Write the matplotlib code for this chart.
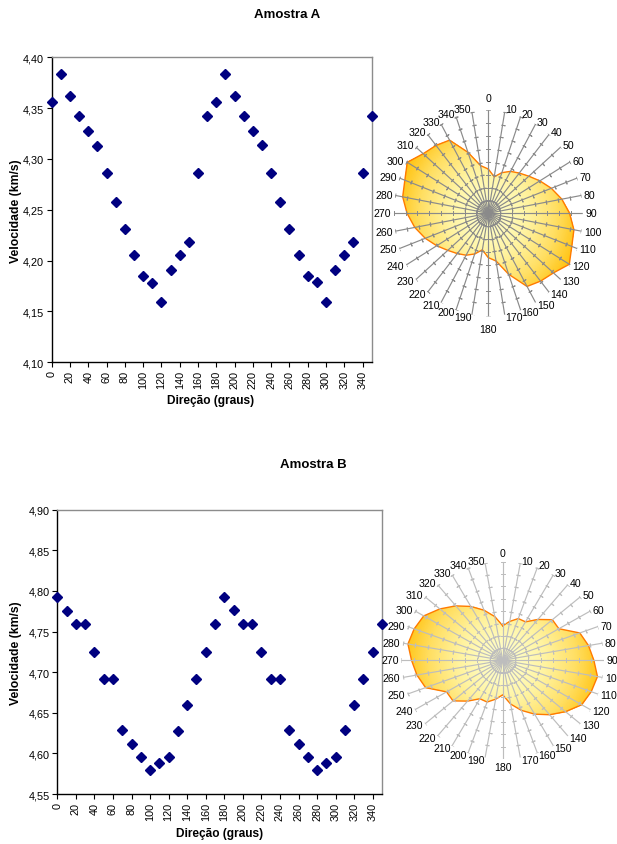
import numpy as np
import matplotlib
matplotlib.use('Agg')
import matplotlib.pyplot as plt
from matplotlib.colors import LinearSegmentedColormap

plt.rcParams['font.family'] = ['Liberation Sans', 'DejaVu Sans']

# ---------------- data ----------------
directions = list(range(0, 360, 10))

vel_A = [4.356, 4.384, 4.362, 4.342, 4.328, 4.313, 4.286, 4.258, 4.231,
         4.206, 4.185, 4.178, 4.159, 4.191, 4.206, 4.218, 4.286, 4.342,
         4.356, 4.384, 4.362, 4.342, 4.328, 4.314, 4.286, 4.258, 4.231,
         4.206, 4.185, 4.179, 4.159, 4.191, 4.206, 4.218, 4.286, 4.342]

vel_B = [4.793, 4.775, 4.759, 4.759, 4.725, 4.691, 4.691, 4.629, 4.611,
         4.596, 4.580, 4.588, 4.596, 4.628, 4.660, 4.692, 4.725, 4.759,
         4.793, 4.776, 4.759, 4.759, 4.725, 4.691, 4.691, 4.629, 4.611,
         4.596, 4.580, 4.588, 4.596, 4.629, 4.660, 4.692, 4.725, 4.759]

# radar (relative radius)
radar_A = [0.43, 0.36, 0.42, 0.47, 0.51, 0.56, 0.63, 0.71, 0.79,
           0.86, 0.92, 0.94, 0.99, 0.90, 0.86, 0.82, 0.63, 0.47,
           0.43, 0.36, 0.42, 0.47, 0.51, 0.56, 0.63, 0.71, 0.79,
           0.86, 0.92, 0.94, 0.99, 0.90, 0.86, 0.82, 0.63, 0.47]

radar_B = [0.35, 0.40, 0.45, 0.45, 0.54, 0.64, 0.64, 0.81, 0.86,
           0.90, 0.95, 0.93, 0.90, 0.81, 0.72, 0.63, 0.54, 0.45,
           0.35, 0.40, 0.45, 0.45, 0.54, 0.64, 0.64, 0.81, 0.86,
           0.90, 0.95, 0.93, 0.90, 0.81, 0.72, 0.63, 0.54, 0.45]

xticks = list(range(0, 341, 20))
xtick_labels = [str(t) for t in xticks]
yticks_A = [4.10, 4.15, 4.20, 4.25, 4.30, 4.35, 4.40]
ytick_labels_A = ['4,10', '4,15', '4,20', '4,25', '4,30', '4,35', '4,40']
yticks_B = [4.55, 4.60, 4.65, 4.70, 4.75, 4.80, 4.85, 4.90]
ytick_labels_B = ['4,55', '4,60', '4,65', '4,70', '4,75', '4,80', '4,85', '4,90']
radar_labels = [str(d) for d in directions]

title_A = 'Amostra A'
title_B = 'Amostra B'
ylabel = 'Velocidade (km/s)'
xlabel = 'Direção (graus)'

# ---------------- figure ----------------
W, H = 617, 845
fig = plt.figure(figsize=(W / 100, H / 100), dpi=100)


def box(x0, y0, x1, y1):
    return [x0 / W, 1 - y1 / H, (x1 - x0) / W, (y1 - y0) / H]


def scatter_panel(rect, vel, yticks, ylabels, ylim):
    ax = fig.add_axes(rect)
    ax.plot(directions, vel, linestyle='none', marker='D', ms=5.6,
            color='#000080', mec='#000080', clip_on=False, zorder=3)
    ax.set_xlim(0, 350)
    ax.set_ylim(*ylim)
    ax.set_xticks(xticks)
    ax.set_xticklabels(xtick_labels, rotation=90, fontsize=7.8)
    ax.set_yticks(yticks)
    ax.set_yticklabels(ylabels, fontsize=7.8)
    ax.tick_params(direction='out', length=3.5, width=0.8, pad=2, colors='black')
    for s in ['left', 'bottom']:
        ax.spines[s].set_color('black')
        ax.spines[s].set_linewidth(1.0)
    for s in ['top', 'right']:
        ax.spines[s].set_color('#8c8c8c')
        ax.spines[s].set_linewidth(1.0)
    return ax


axA = scatter_panel(box(51.7, 58.3, 371.7, 363.3), vel_A, yticks_A, ytick_labels_A, (4.10, 4.40))
axB = scatter_panel(box(57.3, 510.7, 382.0, 795.0), vel_B, yticks_B, ytick_labels_B, (4.55, 4.90))

fig.text(287 / W, 1 - 15 / H, title_A, ha='center', va='center', fontsize=9.5, fontweight='bold')
fig.text(313 / W, 1 - 465 / H, title_B, ha='center', va='center', fontsize=9.5, fontweight='bold')
fig.text(16 / W, 1 - 211 / H, ylabel, rotation=90, ha='center', va='center', fontsize=8.8, fontweight='bold')
fig.text(16 / W, 1 - 653 / H, ylabel, rotation=90, ha='center', va='center', fontsize=8.8, fontweight='bold')
fig.text(211 / W, 1 - 401.5 / H, xlabel, ha='center', va='center', fontsize=8.6, fontweight='bold')
fig.text(219.6 / W, 1 - 834 / H, xlabel, ha='center', va='center', fontsize=8.6, fontweight='bold')

cmap = LinearSegmentedColormap.from_list('glow', ['#FFFDC4', '#FFF3A0', '#FFE066', '#FFC20E'])
spoke_ticks = np.arange(1, 9) * 0.125


def radar_panel(rect, values, spoke_color, pole_gap):
    ax = fig.add_axes(rect, projection='polar')
    ax.set_aspect('auto')
    ax.set_theta_zero_location('N')
    ax.set_theta_direction(-1)
    ax.set_ylim(0, 1)
    ax.set_xticks([])
    ax.set_yticks([])
    ax.grid(False)
    ax.spines['polar'].set_visible(False)
    ax.patch.set_alpha(0)

    th = np.deg2rad(directions + [directions[0]])
    rv = values + [values[0]]

    # gradient fill clipped to the radar polygon
    tg = np.linspace(0, 2 * np.pi, 181)
    rg = np.linspace(0, 1, 60)
    TG, RG = np.meshgrid(tg, rg)
    mesh = ax.pcolormesh(TG, RG, RG, cmap=cmap, vmin=0.15, vmax=1.0,
                         shading='gouraud', zorder=1)
    poly = ax.fill(th, rv, facecolor='none', edgecolor='none', zorder=1)[0]
    mesh.set_clip_path(poly)
    ax.plot(th, rv, color='#FF7A00', lw=1.0, zorder=2)

    # spokes with tick marks
    for d in directions:
        t = np.deg2rad(d)
        ax.plot([t, t], [0, 1], color=spoke_color, lw=0.85, zorder=3)
        ax.plot(np.full(len(spoke_ticks), t), spoke_ticks, linestyle='none',
                marker=(2, 2, 90 - d), ms=2.8, mew=0.7, color=spoke_color, zorder=3)

    # category labels
    for d, lab in zip(directions, radar_labels):
        t = np.deg2rad(d)
        gap = 1.8
        if d == 0:
            ha, va = 'center', 'bottom'
            gap = pole_gap
        elif d == 180:
            ha, va = 'center', 'top'
            gap = pole_gap
        elif d < 180:
            ha, va = 'left', 'center'
        else:
            ha, va = 'right', 'center'
        ax.annotate(lab, xy=(t, 1.0), xytext=(gap * np.sin(t), gap * np.cos(t)),
                    textcoords='offset points', ha=ha, va=va, fontsize=7.6,
                    annotation_clip=False)
    return ax


radar_panel(box(393.8, 111.3, 582.8, 317.3), radar_A, '#8a8a8a', 5.5)
radar_panel(box(401.4, 562.6, 604.0, 760.0), radar_B, '#bdbdbd', 2.5)

fig.savefig('out.png', dpi=100)
